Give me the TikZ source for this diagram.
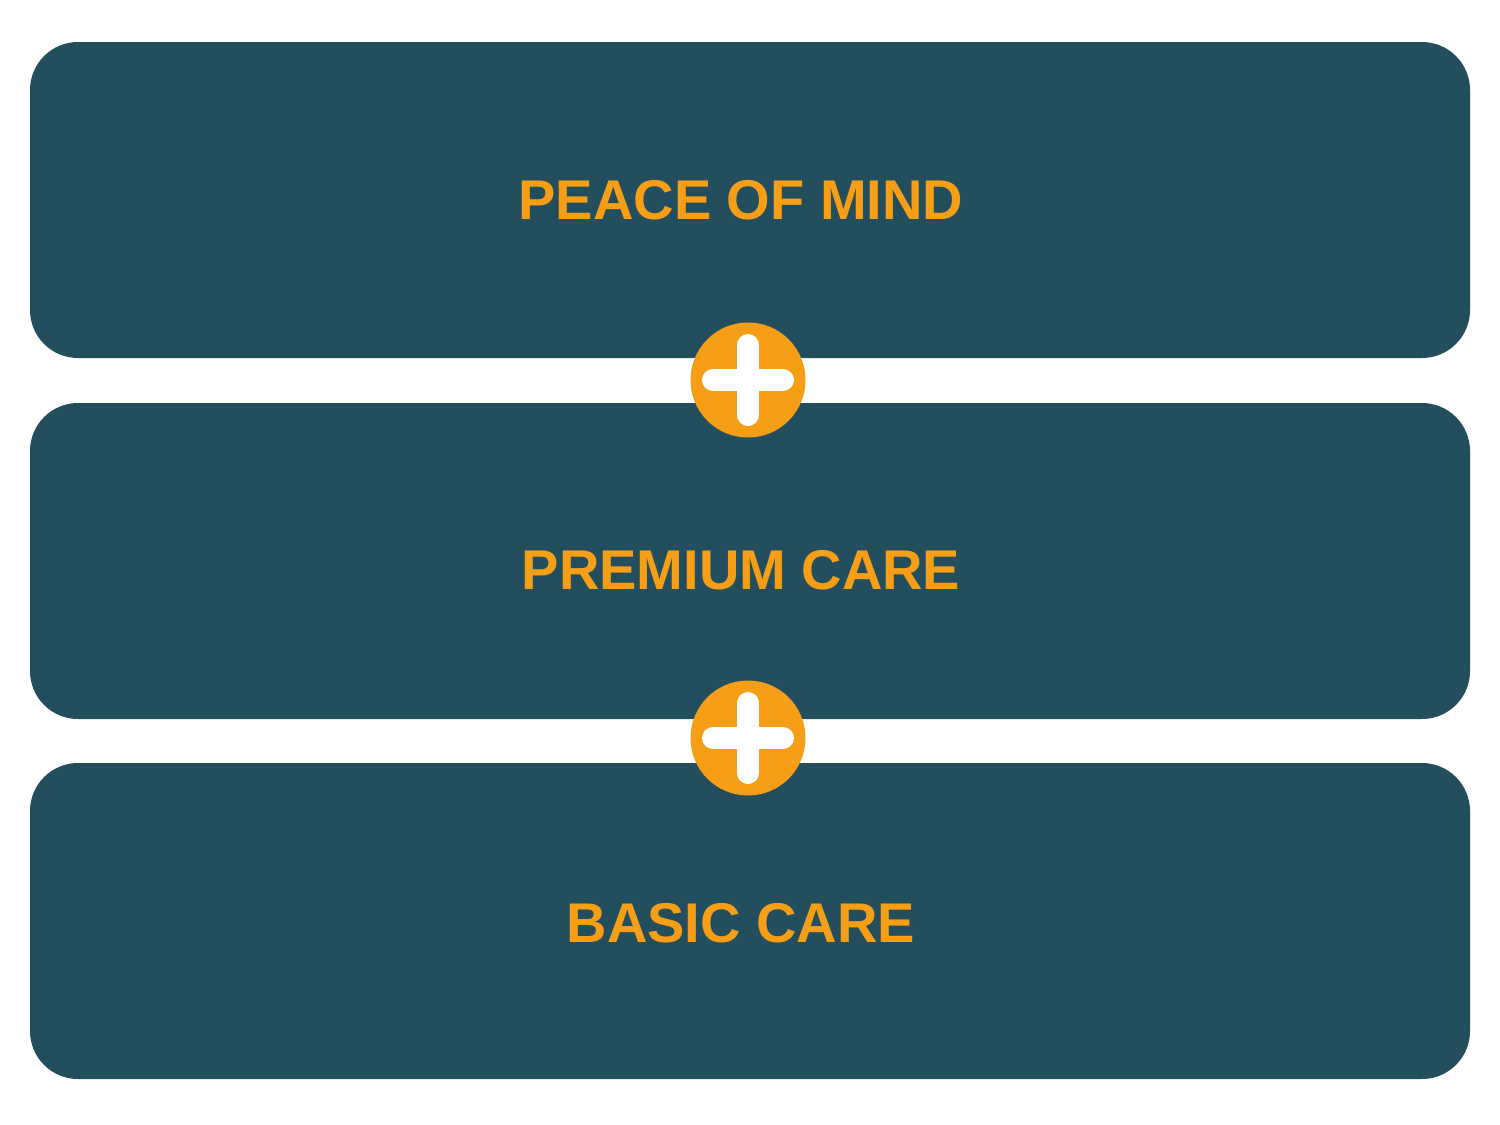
\documentclass[tikz,border=0pt]{standalone}
\usepackage{fontspec}
\setmainfont{Liberation Sans}
\definecolor{teal}{HTML}{224E5E}
\definecolor{orng}{HTML}{F59E16}
\begin{document}
\begin{tikzpicture}[x=1pt,y=-1pt,
  band/.style={fill=teal, rounded corners=48pt},
  lbl/.style={text=orng, font=\fontsize{56}{60}\selectfont\bfseries, inner sep=0pt},
  pluscirc/.style={circle, fill=orng, minimum size=115pt, inner sep=0pt},
  plusbar/.style={draw=white, line width=22pt, line cap=round}]
\useasboundingbox (0,0) rectangle (1500,1125);
\fill[white] (0,0) rectangle (1500,1125);
\fill[band] (30,42) rectangle (1470,358);
\fill[band] (30,403) rectangle (1470,719);
\fill[band] (30,763) rectangle (1470,1079);
\node[lbl] (t1) at (741,200) {PEACE OF MIND};
\node[lbl] (t2) at (741,570) {PREMIUM CARE};
\node[lbl] (t3) at (741,923) {BASIC CARE};
\node[pluscirc] (p1) at (748,380) {};
\node[pluscirc] (p2) at (748,738) {};
\foreach \p in {p1,p2}{
  \draw[plusbar] ([xshift=-35pt]\p.center) -- ([xshift=35pt]\p.center);
  \draw[plusbar] ([yshift=-35pt]\p.center) -- ([yshift=35pt]\p.center);
}
\end{tikzpicture}
\end{document}
